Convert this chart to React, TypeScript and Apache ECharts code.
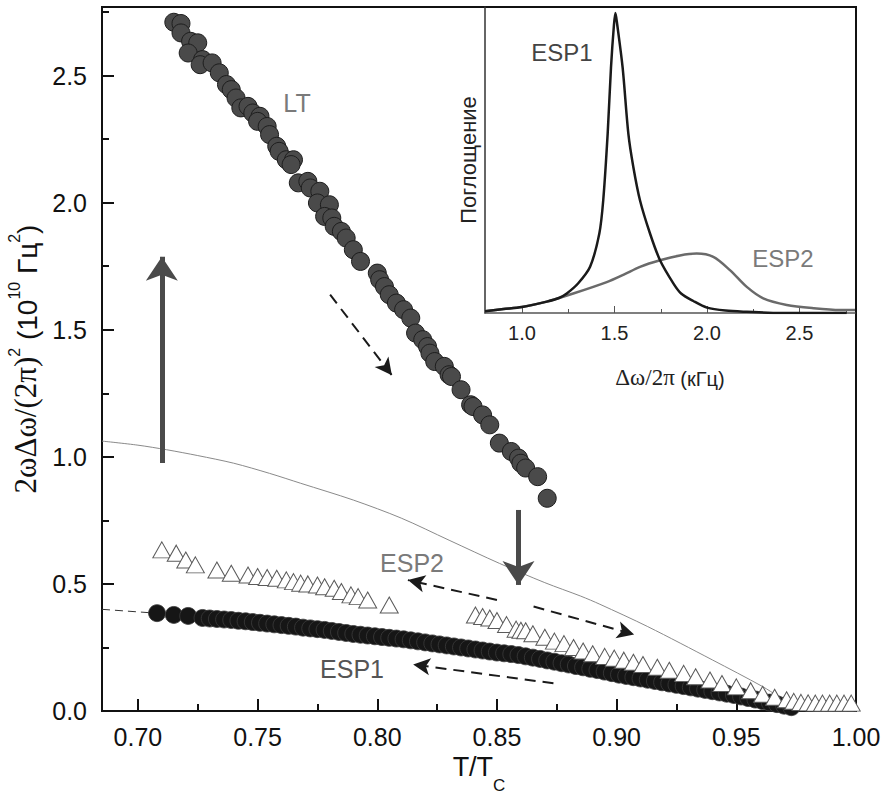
import React, { useEffect, useRef } from "react";
import * as echarts from "echarts";

const SANS = "'Liberation Sans', Arial, Helvetica, sans-serif";
const SERIF = "'Liberation Serif', 'Times New Roman', serif";

// ---- main axes ticks ----
const xMajorTicks = [0.7, 0.75, 0.8, 0.85, 0.9, 0.95, 1.0];
const xMinorTicks = [0.725, 0.775, 0.825, 0.875, 0.925, 0.975];
const yMajorTicks = [0, 0.5, 1.0, 1.5, 2.0, 2.5];
const yMinorTicks = [0.25, 0.75, 1.25, 1.75, 2.25, 2.75];
// ---- inset axes ticks ----
const insetMajorTicks = [1.0, 1.5, 2.0, 2.5];
const insetMinorTicks = [1.25, 1.75, 2.25, 2.75];

// ---- LT (grey circles) ----
const ltPoints = [
  [0.715, 2.71], [0.718, 2.705], [0.718, 2.668], [0.722, 2.635], [0.725, 2.629],
  [0.721, 2.589], [0.727, 2.563], [0.726, 2.543], [0.731, 2.55], [0.734, 2.511],
  [0.737, 2.465], [0.739, 2.445], [0.741, 2.412], [0.743, 2.373], [0.746, 2.379],
  [0.748, 2.353], [0.751, 2.34], [0.75, 2.32], [0.754, 2.3], [0.755, 2.268],
  [0.758, 2.222], [0.759, 2.202], [0.762, 2.169], [0.765, 2.169], [0.764, 2.15],
  [0.767, 2.078], [0.771, 2.084], [0.772, 2.058], [0.776, 2.045], [0.775, 1.999],
  [0.78, 1.992], [0.778, 1.946], [0.781, 1.94], [0.782, 1.907], [0.785, 1.887],
  [0.787, 1.861], [0.79, 1.815], [0.793, 1.769], [0.8, 1.723], [0.801, 1.697],
  [0.803, 1.67], [0.805, 1.638], [0.808, 1.605], [0.811, 1.579], [0.814, 1.546],
  [0.816, 1.487], [0.819, 1.461], [0.821, 1.434], [0.822, 1.408], [0.824, 1.375],
  [0.828, 1.356], [0.83, 1.323], [0.831, 1.316], [0.835, 1.264], [0.839, 1.205],
  [0.84, 1.198], [0.844, 1.165], [0.847, 1.126], [0.851, 1.054], [0.856, 1.021],
  [0.859, 0.995], [0.86, 0.975], [0.862, 0.956], [0.867, 0.922], [0.871, 0.837],
];

// ---- ESP1 (black circles) ----
const esp1Points = [
  [0.708, 0.385], [0.715, 0.378], [0.721, 0.374], [0.727, 0.366], [0.73, 0.364],
  [0.733, 0.362], [0.736, 0.36], [0.739, 0.358], [0.742, 0.355], [0.745, 0.353],
  [0.748, 0.35], [0.751, 0.347], [0.754, 0.344], [0.757, 0.341], [0.76, 0.338],
  [0.763, 0.335], [0.766, 0.332], [0.769, 0.328], [0.772, 0.325], [0.775, 0.322],
  [0.778, 0.319], [0.781, 0.315], [0.784, 0.311], [0.787, 0.307], [0.79, 0.303],
  [0.793, 0.3], [0.796, 0.297], [0.799, 0.294], [0.802, 0.291], [0.805, 0.288],
  [0.808, 0.285], [0.811, 0.282], [0.814, 0.278], [0.817, 0.274], [0.82, 0.27],
  [0.823, 0.266], [0.826, 0.262], [0.829, 0.258], [0.832, 0.254], [0.835, 0.25],
  [0.838, 0.246], [0.841, 0.242], [0.844, 0.238], [0.847, 0.234], [0.85, 0.23],
  [0.853, 0.227], [0.856, 0.224], [0.859, 0.22], [0.862, 0.215], [0.865, 0.21],
  [0.868, 0.205], [0.871, 0.199], [0.874, 0.194], [0.877, 0.188], [0.88, 0.183],
  [0.883, 0.177], [0.886, 0.172], [0.889, 0.166], [0.892, 0.161], [0.895, 0.155],
  [0.898, 0.149], [0.901, 0.143], [0.904, 0.138], [0.907, 0.133], [0.91, 0.128],
  [0.913, 0.123], [0.916, 0.118], [0.919, 0.113], [0.922, 0.108], [0.925, 0.103],
  [0.928, 0.098], [0.931, 0.093], [0.934, 0.088], [0.937, 0.083], [0.94, 0.078],
  [0.943, 0.073], [0.946, 0.068], [0.949, 0.063], [0.952, 0.057], [0.955, 0.051],
  [0.958, 0.045], [0.961, 0.039], [0.964, 0.033], [0.967, 0.027], [0.97, 0.021],
  [0.973, 0.015],
];

// ---- ESP2 (open triangles), two runs ----
const esp2PointsA = [
  [0.71, 0.634], [0.716, 0.621], [0.72, 0.594], [0.724, 0.575], [0.733, 0.555],
  [0.739, 0.542], [0.746, 0.535], [0.75, 0.529], [0.754, 0.525], [0.758, 0.522],
  [0.762, 0.516], [0.765, 0.509], [0.768, 0.503], [0.771, 0.5], [0.775, 0.496],
  [0.778, 0.489], [0.782, 0.483], [0.785, 0.47], [0.789, 0.457], [0.792, 0.45],
  [0.796, 0.437], [0.805, 0.417],
];
const esp2PointsB = [
  [0.841, 0.378], [0.844, 0.372], [0.847, 0.366], [0.85, 0.356], [0.854, 0.34],
  [0.858, 0.322], [0.86, 0.318], [0.862, 0.316], [0.865, 0.304], [0.87, 0.29],
  [0.874, 0.275], [0.878, 0.265], [0.882, 0.25], [0.886, 0.236], [0.89, 0.225],
  [0.895, 0.215], [0.899, 0.208], [0.903, 0.2], [0.907, 0.192], [0.911, 0.183],
  [0.917, 0.172], [0.922, 0.16], [0.928, 0.148], [0.933, 0.135], [0.939, 0.122],
  [0.944, 0.108], [0.95, 0.095], [0.956, 0.08], [0.961, 0.066], [0.966, 0.054],
  [0.971, 0.044], [0.974, 0.038], [0.977, 0.034], [0.98, 0.032], [0.983, 0.031],
  [0.986, 0.031], [0.989, 0.031], [0.992, 0.031], [0.995, 0.031], [0.998, 0.031],
];

// ---- thin grey curve ----
const thinCurve = [
  [0.685, 1.062], [0.7, 1.046], [0.712, 1.028], [0.725, 1.005], [0.74, 0.975],
  [0.755, 0.935], [0.768, 0.896], [0.79, 0.83], [0.81, 0.759], [0.83, 0.672],
  [0.851, 0.581], [0.87, 0.505], [0.885, 0.452], [0.893, 0.42], [0.913, 0.332],
  [0.94, 0.201], [0.961, 0.096], [0.975, 0.017], [0.985, 0.0], [1.0, 0.0],
];

// ---- dashed extension of ESP1 ----
const esp1Extension = [[0.685, 0.4], [0.706, 0.386]];

// ---- arrows: [from, to(head centre)] ----
const solidArrows = [
  [[0.71, 0.976], [0.71, 1.787]],
  [[0.859, 0.791], [0.859, 0.496]],
];
const dashedArrows = [
  [[0.7803, 1.638], [0.8061, 1.321]],
  [[0.85, 0.437], [0.8128, 0.515]],
  [[0.8653, 0.411], [0.9073, 0.301]],
  [[0.8736, 0.109], [0.815, 0.183]],
];

// ---- inset spectra ----
const insetEsp1 = [
  [0.8, 0.006], [0.9, 0.013], [1.0, 0.02], [1.134, 0.038], [1.2, 0.05],
  [1.242, 0.065], [1.304, 0.099], [1.368, 0.154], [1.418, 0.265], [1.439, 0.375],
  [1.463, 0.597], [1.481, 0.818], [1.497, 0.96], [1.505, 1.0], [1.515, 0.96],
  [1.544, 0.818], [1.575, 0.597], [1.602, 0.486], [1.638, 0.375], [1.692, 0.265],
  [1.746, 0.176], [1.818, 0.099], [1.86, 0.065], [1.926, 0.04], [2.0, 0.018],
  [2.1, 0.008], [2.215, 0.004], [2.4, 0.0], [2.575, 0.0], [2.755, 0.0],
];
const insetEsp2 = [
  [0.8, 0.006], [0.9, 0.013], [1.0, 0.02], [1.134, 0.038], [1.277, 0.065],
  [1.458, 0.103], [1.55, 0.128], [1.638, 0.154], [1.746, 0.176], [1.854, 0.192],
  [1.944, 0.198], [2.034, 0.187], [2.124, 0.143], [2.215, 0.087], [2.304, 0.049],
  [2.431, 0.027], [2.575, 0.016], [2.719, 0.01], [2.8, 0.01],
];

const majorTickStyle = { color: "#111", width: 2 };

export default function App() {
  const ref = useRef<HTMLDivElement>(null);

  useEffect(() => {
    document.body.style.margin = "0";
    const chart = echarts.init(ref.current!, null, { renderer: "svg" });

    const arrowLines: any[] = [];
    solidArrows.forEach(([a, b]) => {
      arrowLines.push([
        { coord: a, symbol: "none", lineStyle: { color: "#4a4a4a", width: 5, type: "solid" } },
        { coord: b, symbol: "arrow", symbolSize: [24, 24] },
      ]);
    });
    dashedArrows.forEach(([a, b]) => {
      arrowLines.push([
        { coord: a, symbol: "none", lineStyle: { color: "#1a1a1a", width: 2, type: [11, 7] } },
        { coord: b, symbol: "arrow", symbolSize: [13, 17] },
      ]);
    });

    const option: any = {
      animation: false,
      backgroundColor: "#ffffff",
      textStyle: { fontFamily: SANS },
      grid: [
        {
          left: 102, top: 7, right: 30, bottom: 83,
          show: true, borderColor: "#111", borderWidth: 2,
          backgroundColor: "transparent", containLabel: false, outerBoundsMode: "none",
        },
        {
          left: 485, top: 7, right: 31, bottom: 481,
          show: false, containLabel: false, outerBoundsMode: "none",
        },
      ],
      xAxis: [
        {
          type: "value", gridIndex: 0, position: "bottom", min: 0.685, max: 1.0,
          axisLine: { onZero: false, lineStyle: majorTickStyle },
          axisTick: { inside: true, length: 12, lineStyle: majorTickStyle, customValues: xMajorTicks },
          axisLabel: {
            customValues: xMajorTicks, formatter: (v: number) => v.toFixed(2),
            fontSize: 25, color: "#111", margin: 13, fontFamily: SANS,
          },
          splitLine: { show: false },
          name: "{n|T/T}{sub|C}",
          nameLocation: "middle",
          nameGap: 37,
          nameTextStyle: {
            color: "#111",
            rich: {
              n: { fontSize: 27, fontFamily: SANS, lineHeight: 30, verticalAlign: "top", color: "#111" },
              sub: { fontSize: 17, fontFamily: SANS, lineHeight: 40, verticalAlign: "bottom", color: "#111" },
            },
          },
        },
        {
          type: "value", gridIndex: 0, position: "bottom", min: 0.685, max: 1.0,
          axisLine: { show: false, onZero: false },
          axisTick: { inside: true, length: 7, lineStyle: majorTickStyle, customValues: xMinorTicks },
          axisLabel: { show: false },
          splitLine: { show: false },
        },
        {
          type: "value", gridIndex: 1, position: "bottom", min: 0.8, max: 2.8,
          axisLine: { onZero: false, lineStyle: { color: "#555", width: 1.5 } },
          axisTick: { inside: true, length: 7, lineStyle: { color: "#555", width: 1 }, customValues: insetMajorTicks },
          axisLabel: {
            customValues: insetMajorTicks, formatter: (v: number) => v.toFixed(1),
            fontSize: 20, color: "#222", margin: 10, fontFamily: SANS,
          },
          splitLine: { show: false },
          name: "{s|Δω/2π}{n| (кГц)}",
          nameLocation: "middle",
          nameGap: 52,
          nameTextStyle: {
            rich: {
              s: { fontSize: 23, fontFamily: SERIF, color: "#222", lineHeight: 24, verticalAlign: "bottom" },
              n: { fontSize: 20, fontFamily: SANS, color: "#222", lineHeight: 24, verticalAlign: "bottom" },
            },
          },
        },
        {
          type: "value", gridIndex: 1, position: "bottom", min: 0.8, max: 2.8,
          axisLine: { show: false, onZero: false },
          axisTick: { inside: true, length: 4, lineStyle: { color: "#555", width: 1 }, customValues: insetMinorTicks },
          axisLabel: { show: false },
          splitLine: { show: false },
        },
      ],
      yAxis: [
        {
          type: "value", gridIndex: 0, position: "left", min: 0, max: 2.77,
          axisLine: { show: true, onZero: false, lineStyle: majorTickStyle },
          axisTick: { show: true, inside: true, length: 12, lineStyle: majorTickStyle, customValues: yMajorTicks },
          axisLabel: {
            customValues: yMajorTicks, formatter: (v: number) => v.toFixed(1),
            fontSize: 25, color: "#111", margin: 15, fontFamily: SANS,
          },
          splitLine: { show: false },
          name: "{s|2ωΔω/(2π)}{sup|2}{n| (10}{sup|10}{n| Гц}{sup|2}{n|)}",
          nameLocation: "middle",
          nameRotate: 90,
          nameGap: 49,
          nameTextStyle: {
            color: "#111",
            rich: {
              s: { fontFamily: SERIF, fontSize: 31, lineHeight: 35, verticalAlign: "bottom", color: "#111" },
              n: { fontFamily: SANS, fontSize: 28, lineHeight: 35, verticalAlign: "bottom", color: "#111" },
              sup: { fontFamily: SANS, fontSize: 16, lineHeight: 35, verticalAlign: "top", color: "#111" },
            },
          },
        },
        {
          type: "value", gridIndex: 0, position: "left", min: 0, max: 2.77,
          axisLine: { show: false, onZero: false },
          axisTick: { show: true, inside: true, length: 7, lineStyle: majorTickStyle, customValues: yMinorTicks },
          axisLabel: { show: false },
          splitLine: { show: false },
        },
        {
          type: "value", gridIndex: 1, position: "left", min: 0, max: 1.02,
          axisLine: { show: true, onZero: false, lineStyle: { color: "#333", width: 1.5 } },
          axisTick: { show: false },
          axisLabel: { show: false },
          splitLine: { show: false },
          name: "Поглощение",
          nameLocation: "middle",
          nameRotate: 90,
          nameGap: 6,
          nameTextStyle: { fontSize: 22, color: "#222", fontFamily: SANS },
        },
      ],
      series: [
        {
          name: "ESP1 ext", type: "line", xAxisIndex: 0, yAxisIndex: 0,
          data: esp1Extension, symbol: "none",
          lineStyle: { color: "#333", width: 1, type: [8, 5] }, silent: true, z: 2,
        },
        {
          name: "theory", type: "line", xAxisIndex: 0, yAxisIndex: 0,
          data: thinCurve, symbol: "none", smooth: 0.3,
          lineStyle: { color: "#8a8a8a", width: 1 }, silent: true, z: 2,
        },
        {
          name: "ESP1", type: "scatter", xAxisIndex: 0, yAxisIndex: 0,
          data: esp1Points, symbol: "circle", symbolSize: 17,
          itemStyle: { color: "#161616", borderColor: "#3c3c3c", borderWidth: 0.8, opacity: 1 },
          silent: true, z: 3,
        },
        {
          name: "ESP2 a", type: "scatter", xAxisIndex: 0, yAxisIndex: 0,
          data: esp2PointsA, symbol: "triangle", symbolSize: [18, 16],
          itemStyle: { color: "#ffffff", borderColor: "#5a5a5a", borderWidth: 1, opacity: 1 },
          silent: true, z: 4,
        },
        {
          name: "ESP2 b", type: "scatter", xAxisIndex: 0, yAxisIndex: 0,
          data: esp2PointsB, symbol: "triangle", symbolSize: [18, 16],
          itemStyle: { color: "#ffffff", borderColor: "#5a5a5a", borderWidth: 1, opacity: 1 },
          silent: true, z: 4,
        },
        {
          name: "LT", type: "scatter", xAxisIndex: 0, yAxisIndex: 0,
          data: ltPoints, symbol: "circle", symbolSize: 18,
          itemStyle: { color: "#4a4a4a", borderColor: "#1e1e1e", borderWidth: 1, opacity: 1 },
          silent: true, z: 5,
          markLine: {
            silent: true,
            animation: false,
            label: { show: false },
            emphasis: { disabled: true },
            data: arrowLines,
          },
        },
        {
          name: "inset ESP2", type: "line", xAxisIndex: 2, yAxisIndex: 2,
          data: insetEsp2, symbol: "none", smooth: 0.3,
          lineStyle: { color: "#6a6a6a", width: 2.5 }, silent: true, z: 6,
        },
        {
          name: "inset ESP1", type: "line", xAxisIndex: 2, yAxisIndex: 2,
          data: insetEsp1, symbol: "none", smooth: 0.3,
          lineStyle: { color: "#1a1a1a", width: 2.5 }, silent: true, z: 7,
        },
      ],
      graphic: [
        { type: "text", x: 297, y: 103, style: { text: "LT", fontSize: 25, fontFamily: SANS, fill: "#7a7a7a", align: "center", verticalAlign: "middle", textAlign: "center", textVerticalAlign: "middle" } },
        { type: "text", x: 412, y: 563, style: { text: "ESP2", fontSize: 25, fontFamily: SANS, fill: "#7a7a7a", align: "center", verticalAlign: "middle", textAlign: "center", textVerticalAlign: "middle" } },
        { type: "text", x: 352, y: 669, style: { text: "ESP1", fontSize: 25, fontFamily: SANS, fill: "#555555", align: "center", verticalAlign: "middle", textAlign: "center", textVerticalAlign: "middle" } },
        { type: "text", x: 562, y: 52, style: { text: "ESP1", fontSize: 24, fontFamily: SANS, fill: "#444444", align: "center", verticalAlign: "middle", textAlign: "center", textVerticalAlign: "middle" } },
        { type: "text", x: 783, y: 258, style: { text: "ESP2", fontSize: 24, fontFamily: SANS, fill: "#7a7a7a", align: "center", verticalAlign: "middle", textAlign: "center", textVerticalAlign: "middle" } },
      ],
    };

    chart.setOption(option);
    return () => {
      chart.dispose();
    };
  }, []);

  return (
    <div
      ref={ref}
      style={{ position: "fixed", left: 0, top: 0, width: 886, height: 794, background: "#fff" }}
    />
  );
}
